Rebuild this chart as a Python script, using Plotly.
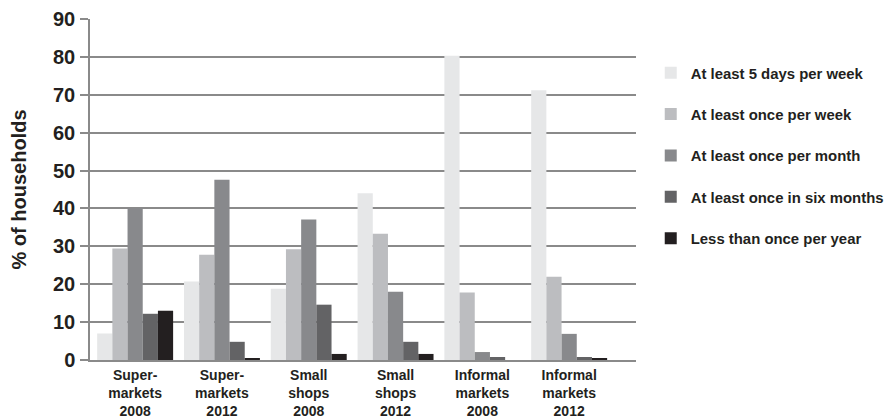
import plotly.graph_objects as go

categories = ["Supermarkets 2008", "Supermarkets 2012", "Small shops 2008",
              "Small shops 2012", "Informal markets 2008", "Informal markets 2012"]
tick_labels = ["Super-<br>markets<br>2008", "Super-<br>markets<br>2012", "Small<br>shops<br>2008",
               "Small<br>shops<br>2012", "Informal<br>markets<br>2008", "Informal<br>markets<br>2012"]

series_names = ["At least 5 days per week", "At least once per week", "At least once per month",
                "At least once in six months", "Less than once per year"]

at_least_5_days = [7.0, 20.7, 18.8, 44.0, 80.3, 71.2]
once_per_week = [29.4, 27.8, 29.2, 33.3, 17.8, 22.0]
once_per_month = [40.1, 47.6, 37.1, 18.0, 2.1, 6.9]
once_six_months = [12.2, 4.8, 14.6, 4.8, 0.8, 0.8]
less_once_year = [13.0, 0.5, 1.6, 1.6, 0.0, 0.5]

series_values = [at_least_5_days, once_per_week, once_per_month, once_six_months, less_once_year]
colors = ["#e6e7e8", "#bcbdc0", "#88898c", "#636365", "#231f20"]

FONT = "Liberation Sans"
TXT = "#231f20"

fig = go.Figure()
for i, (name, vals, col) in enumerate(zip(series_names, series_values, colors)):
    fig.add_trace(go.Bar(x=categories, y=vals, name=name, marker=dict(color=col, line=dict(width=0)),
                         legendgroup=f"g{i}"))

# page body has an 8px margin, so the figure is sized to 886x412
fig.update_layout(
    width=886, height=412,
    margin=dict(l=82, r=258, t=11, b=60, autoexpand=False),
    paper_bgcolor="white", plot_bgcolor="white",
    barmode="group", bargap=0.125, bargroupgap=0,
    font=dict(family=FONT, color=TXT),
    legend=dict(x=1.027, y=0.890, xanchor="left", yanchor="top",
                font=dict(family=FONT, size=14.9, color=TXT, weight="bold"),
                tracegroupgap=19, bgcolor="rgba(0,0,0,0)", borderwidth=0),
    showlegend=True,
)
fig.update_xaxes(
    tickvals=categories, ticktext=tick_labels, range=[-0.52, 5.77], automargin=False,
    showline=True, linecolor="#8a8a8a", linewidth=1.5, showgrid=False,
    ticks="", ticklabelstandoff=1,
    tickfont=dict(family=FONT, size=14, color=TXT, weight="bold"),
)
fig.update_yaxes(
    range=[0, 90], dtick=10, tick0=0, automargin=False,
    showline=True, linecolor="#8a8a8a", linewidth=1.5,
    showgrid=True, gridcolor="#8a8a8a", gridwidth=1.5, zeroline=False,
    ticks="outside", ticklen=8, tickcolor="#8a8a8a", tickwidth=1.5, ticklabelstandoff=1,
    tickfont=dict(family=FONT, size=20, color=TXT, weight="bold"),
    title=dict(text="% of households", font=dict(family=FONT, size=20, color=TXT, weight="bold"),
               standoff=22),
)

fig.write_html("out.html")
